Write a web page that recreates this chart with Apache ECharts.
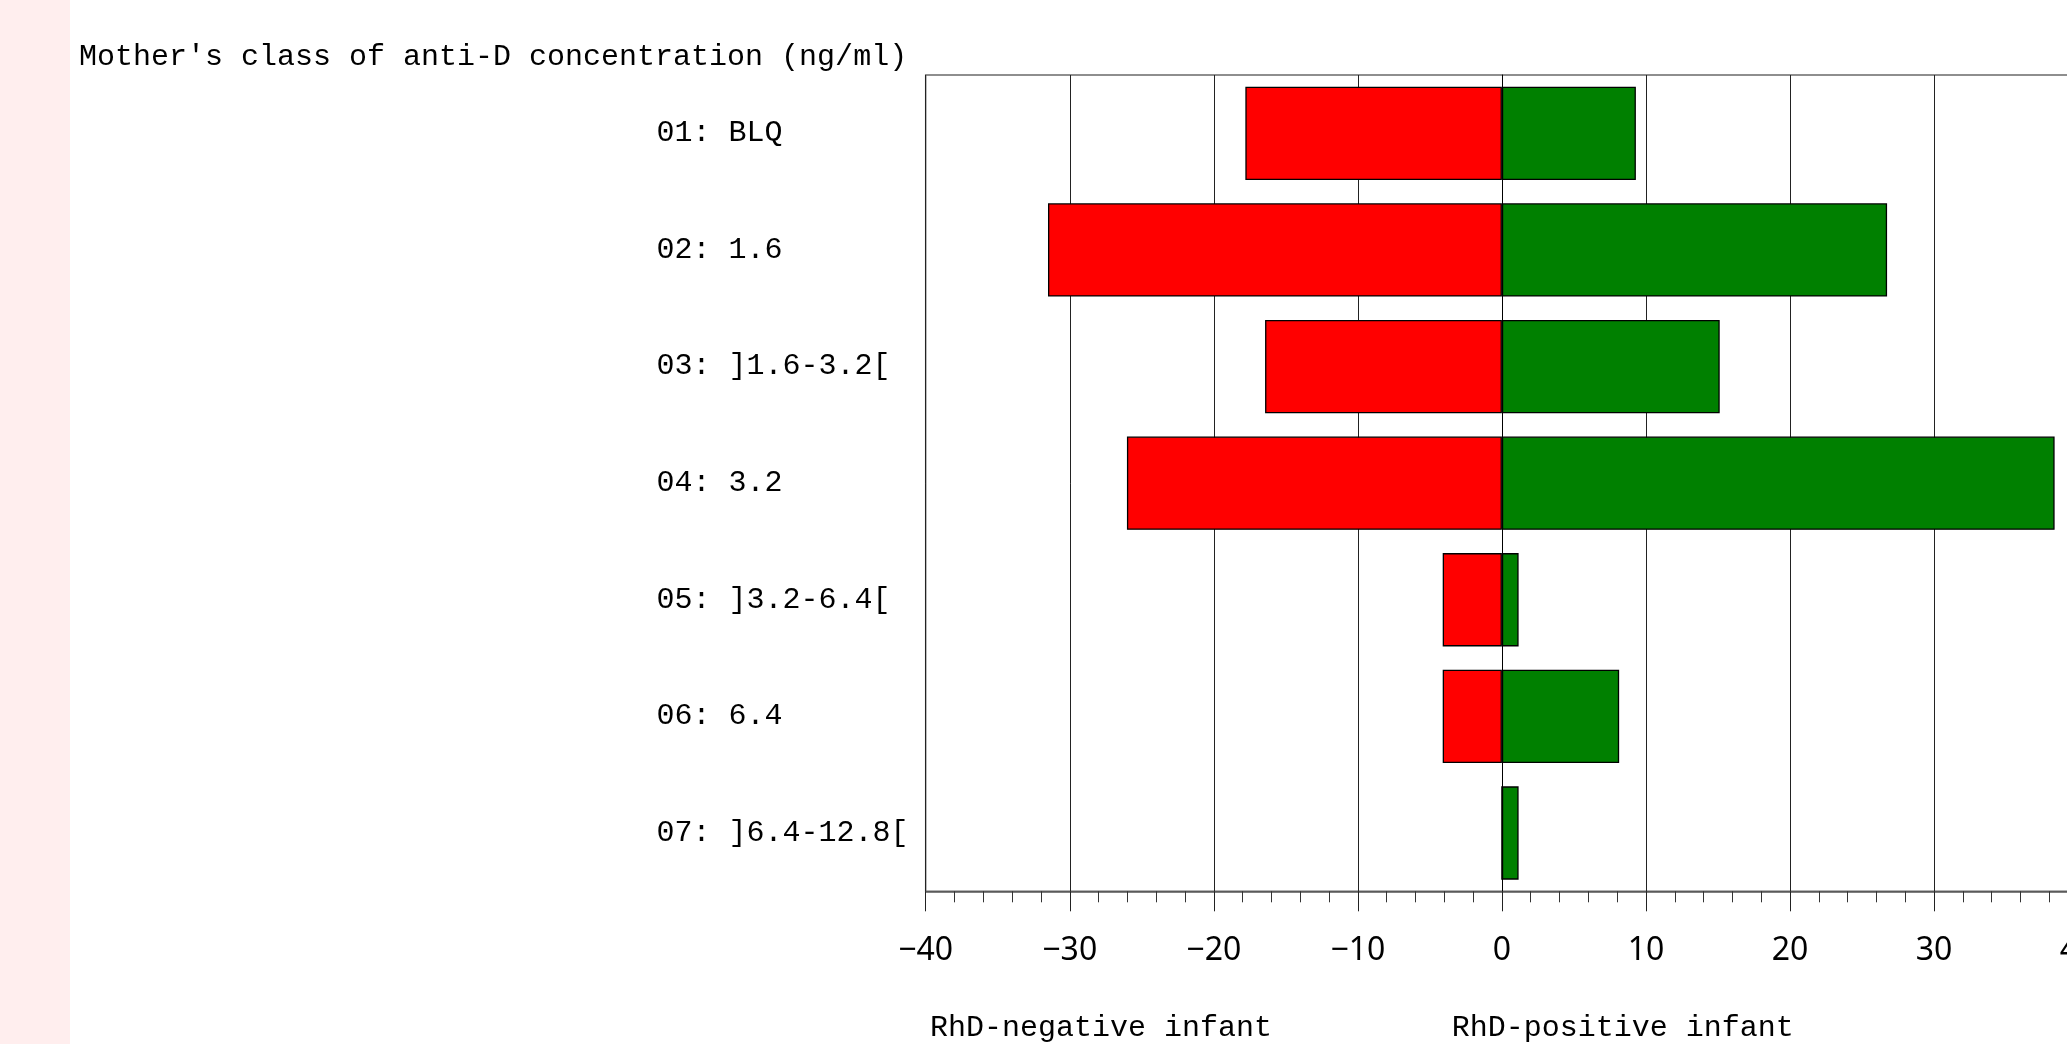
<!DOCTYPE html>
<html>
<head>
<meta charset="utf-8">
<script src="https://cdn.jsdelivr.net/npm/echarts@6/dist/echarts.min.js"></script>
<style>
html,body{margin:0;padding:0;background:#fff;}
#strip{position:absolute;left:0;top:0;width:70px;height:1044px;background:#ffeeee;}
#chart{position:absolute;left:0;top:0;width:2067px;height:1044px;}
</style>
</head>
<body>
<div id="strip"></div>
<div id="chart"></div>
<script>
// ---- data ----
var categories = ['01: BLQ', '02: 1.6', '03: ]1.6-3.2[', '04: 3.2', '05: ]3.2-6.4[', '06: 6.4', '07: ]6.4-12.8['];
var rhdNegative = [-17.81, -31.51, -16.44, -26.03, -4.11, -4.11, 0];
var rhdPositive = [9.30, 26.74, 15.12, 38.37, 1.16, 8.14, 1.16];
var titleText = "Mother's class of anti-D concentration (ng/ml)";
var negLabel = 'RhD-negative infant';
var posLabel = 'RhD-positive infant';

var chart = echarts.init(document.getElementById('chart'), null, {renderer: 'canvas'});
var mono = 'Liberation Mono';
var option = {
  backgroundColor: 'transparent',
  animation: false,
  grid: {
    left: 925.7, top: 75, height: 816.3, width: 1152.4,
    containLabel: false, outerBoundsMode: 'none',
    show: true, borderColor: '#6a6a6a', borderWidth: 1.5, backgroundColor: 'transparent'
  },
  xAxis: {
    type: 'value', min: -40, max: 40, interval: 10,
    axisLine: {show: true, lineStyle: {color: '#555', width: 1.5}},
    axisTick: {show: true, length: 20, lineStyle: {color: '#222', width: 1}},
    minorTick: {show: true, splitNumber: 5, length: 11, lineStyle: {color: '#333', width: 1}},
    splitLine: {show: true, lineStyle: {color: '#222', width: 1}},
    axisLabel: {
      fontFamily: 'Noto Sans', fontSize: 32, color: '#000', margin: 44,
      hideOverlap: false, showMaxLabel: true, showMinLabel: true,
      formatter: function (v) { return String(v).replace('-', '\u2212'); }
    }
  },
  yAxis: {
    type: 'category', data: categories, inverse: true,
    axisLine: {show: true, lineStyle: {color: '#000', width: 1}},
    axisTick: {show: false},
    splitLine: {show: false},
    axisLabel: {align: 'left', margin: 269.2, fontFamily: mono, fontSize: 30, color: '#000'}
  },
  series: [
    {
      name: negLabel, type: 'bar', data: rhdNegative, barWidth: '80%', barGap: '-100%',
      itemStyle: {color: '#ff0000', borderColor: '#000', borderWidth: 1.3}
    },
    {
      name: posLabel, type: 'bar', data: rhdPositive, barWidth: '80%', barGap: '-100%',
      itemStyle: {color: '#008000', borderColor: '#000', borderWidth: 1.3}
    }
  ],
  graphic: [
    {type: 'text', left: 79, top: 42, style: {text: titleText, fontFamily: mono, fontSize: 30, fill: '#000'}},
    {type: 'text', left: 930, top: 1013, style: {text: negLabel, fontFamily: mono, fontSize: 30, fill: '#000'}},
    {type: 'text', left: 1451.7, top: 1013, style: {text: posLabel, fontFamily: mono, fontSize: 30, fill: '#000'}}
  ]
};
chart.setOption(option);
</script>
</body>
</html>
